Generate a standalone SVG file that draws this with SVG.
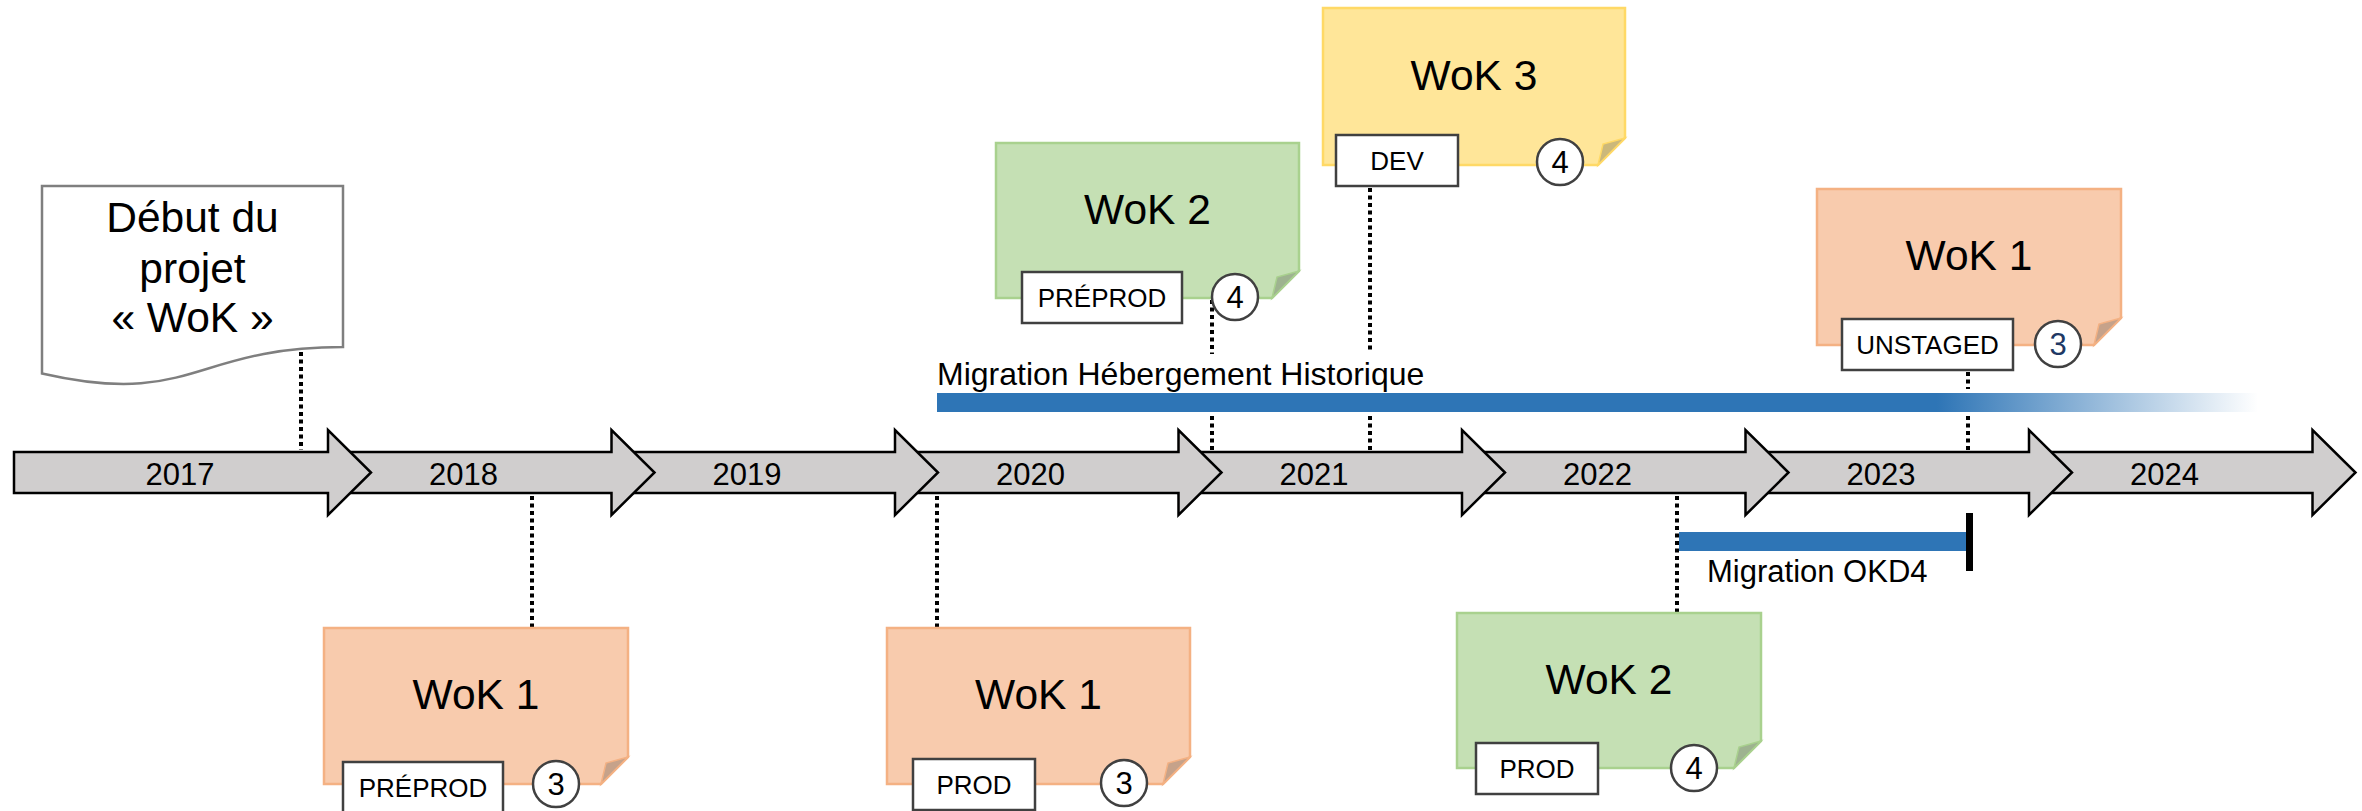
<svg xmlns="http://www.w3.org/2000/svg" width="2362" height="811" viewBox="0 0 2362 811">
<style>
text{font-family:"Liberation Sans",Arial,sans-serif;fill:#000}
.arrow{fill:#d0cece;stroke:#000;stroke-width:2.5;stroke-linejoin:miter}
.year{font-size:31px;text-anchor:middle}
.title{font-size:42.5px;text-anchor:middle}
.lbl{font-size:26px;text-anchor:middle}
.num{font-size:31px;text-anchor:middle}
.box{fill:#fff;stroke:#404040;stroke-width:2.5}
.circ{fill:#fff;stroke:#404040;stroke-width:2.5}
.green{fill:#c5e0b4;stroke:#a9d18e;stroke-width:2.5}
.greenf{fill:#9eb390;stroke:#a9d18e;stroke-width:1.5}
.orange{fill:#f8cbad;stroke:#f4b183;stroke-width:2.5}
.orangef{fill:#c6a28a;stroke:#f4b183;stroke-width:1.5}
.yellow{fill:#ffe699;stroke:#ffd966;stroke-width:2.5}
.yellowf{fill:#ccb87a;stroke:#ffd966;stroke-width:1.5}
.dot{stroke:#000;stroke-width:4;stroke-dasharray:4 3.5;fill:none}
.mig{font-size:31px}
</style>
<defs>
<linearGradient id="fade" x1="937" y1="0" x2="2258" y2="0" gradientUnits="userSpaceOnUse">
<stop offset="0" stop-color="#2e75b6"/>
<stop offset="0.757" stop-color="#2e75b6"/>
<stop offset="1" stop-color="#2e75b6" stop-opacity="0"/>
</linearGradient>
</defs>

<g id="timeline">
<path class="arrow" d="M2029,452 H2312.5 V430 L2355.5,472.5 L2312.5,515 V493 H2029 Z"/>
<path class="arrow" d="M1745.5,452 H2029 V430 L2072,472.5 L2029,515 V493 H1745.5 Z"/>
<path class="arrow" d="M1462,452 H1745.5 V430 L1788.5,472.5 L1745.5,515 V493 H1462 Z"/>
<path class="arrow" d="M1178.5,452 H1462 V430 L1505,472.5 L1462,515 V493 H1178.5 Z"/>
<path class="arrow" d="M895,452 H1178.5 V430 L1221.5,472.5 L1178.5,515 V493 H895 Z"/>
<path class="arrow" d="M611.5,452 H895 V430 L938,472.5 L895,515 V493 H611.5 Z"/>
<path class="arrow" d="M328,452 H611.5 V430 L654.5,472.5 L611.5,515 V493 H328 Z"/>
<path class="arrow" d="M14,452 H328 V430 L371,472.5 L328,515 V493 H14 Z"/>
<text class="year" x="180" y="485">2017</text>
<text class="year" x="463.5" y="485">2018</text>
<text class="year" x="747" y="485">2019</text>
<text class="year" x="1030.5" y="485">2020</text>
<text class="year" x="1314" y="485">2021</text>
<text class="year" x="1597.5" y="485">2022</text>
<text class="year" x="1881" y="485">2023</text>
<text class="year" x="2164.5" y="485">2024</text>
</g>

<g id="connectors">
<line class="dot" x1="301" y1="352" x2="301" y2="450"/>
<line class="dot" x1="532" y1="496" x2="532" y2="628"/>
<line class="dot" x1="937" y1="496" x2="937" y2="628"/>
<line class="dot" x1="1212" y1="300" x2="1212" y2="354"/>
<line class="dot" x1="1212" y1="416" x2="1212" y2="450"/>
<line class="dot" x1="1370" y1="188" x2="1370" y2="352"/>
<line class="dot" x1="1370" y1="416" x2="1370" y2="450"/>
<line class="dot" x1="1968" y1="372" x2="1968" y2="389"/>
<line class="dot" x1="1968" y1="416" x2="1968" y2="450"/>
<line class="dot" x1="1677" y1="496" x2="1677" y2="613"/>
</g>

<g id="migration-hebergement">
<text class="mig" x="937" y="385" style="font-size:32px">Migration Hébergement Historique</text>
<rect x="937" y="393" width="1321" height="19" fill="url(#fade)"/>
</g>

<g id="migration-okd4">
<rect x="1679" y="532" width="289" height="19" fill="#2e75b6"/>
<rect x="1966" y="513" width="7" height="58" fill="#000"/>
<text class="mig" x="1707" y="582">Migration OKD4</text>
</g>

<g id="debut">
<path d="M42,186 H343 V347 C192.5,347 192.5,408 42,373.5 Z" fill="#fff" stroke="#7f7f7f" stroke-width="2.5"/>
<text class="title" x="192.5" y="232">Début du</text>
<text class="title" x="192.5" y="283">projet</text>
<text class="title" x="192.5" y="332">« WoK »</text>
</g>

<g id="wok2-preprod">
<path class="green" d="M996,143 H1299 V271 L1272,298 H996 Z"/>
<path class="greenf" d="M1272,298 L1277,277 L1299,271 Z"/>
<text class="title" x="1147.5" y="224">WoK 2</text>
<rect class="box" x="1022" y="272" width="160" height="51"/>
<text class="lbl" x="1102" y="307">PRÉPROD</text>
<circle class="circ" cx="1235" cy="297" r="23"/>
<text class="num" x="1235" y="308">4</text>
</g>

<g id="wok3-dev">
<path class="yellow" d="M1323,8 H1625 V138 L1598,165 H1323 Z"/>
<path class="yellowf" d="M1598,165 L1603,144 L1625,138 Z"/>
<text class="title" x="1474" y="90">WoK 3</text>
<rect class="box" x="1336" y="135" width="122" height="51"/>
<text class="lbl" x="1397" y="170">DEV</text>
<circle class="circ" cx="1560" cy="162" r="23"/>
<text class="num" x="1560" y="173">4</text>
</g>

<g id="wok1-unstaged">
<path class="orange" d="M1817,189 H2121 V318 L2094,345 H1817 Z"/>
<path class="orangef" d="M2094,345 L2099,324 L2121,318 Z"/>
<text class="title" x="1969" y="270">WoK 1</text>
<rect class="box" x="1842" y="319" width="171" height="51"/>
<text class="lbl" x="1927.5" y="354">UNSTAGED</text>
<circle class="circ" cx="2058" cy="344" r="23"/>
<text class="num" x="2058" y="355" style="fill:#203864">3</text>
</g>

<g id="wok1-preprod">
<path class="orange" d="M324,628 H628 V757 L601,784 H324 Z"/>
<path class="orangef" d="M601,784 L606,763 L628,757 Z"/>
<text class="title" x="476" y="709">WoK 1</text>
<rect class="box" x="343" y="762" width="160" height="51"/>
<text class="lbl" x="423" y="797">PRÉPROD</text>
<circle class="circ" cx="556" cy="784" r="23"/>
<text class="num" x="556" y="795">3</text>
</g>

<g id="wok1-prod">
<path class="orange" d="M887,628 H1190 V757 L1163,784 H887 Z"/>
<path class="orangef" d="M1163,784 L1168,763 L1190,757 Z"/>
<text class="title" x="1038.5" y="709">WoK 1</text>
<rect class="box" x="913" y="759" width="122" height="51"/>
<text class="lbl" x="974" y="794">PROD</text>
<circle class="circ" cx="1124" cy="783" r="23"/>
<text class="num" x="1124" y="794">3</text>
</g>

<g id="wok2-prod">
<path class="green" d="M1457,613 H1761 V741 L1734,768 H1457 Z"/>
<path class="greenf" d="M1734,768 L1739,747 L1761,741 Z"/>
<text class="title" x="1609" y="694">WoK 2</text>
<rect class="box" x="1476" y="743" width="122" height="51"/>
<text class="lbl" x="1537" y="778">PROD</text>
<circle class="circ" cx="1694" cy="768" r="23"/>
<text class="num" x="1694" y="779">4</text>
</g>
</svg>
